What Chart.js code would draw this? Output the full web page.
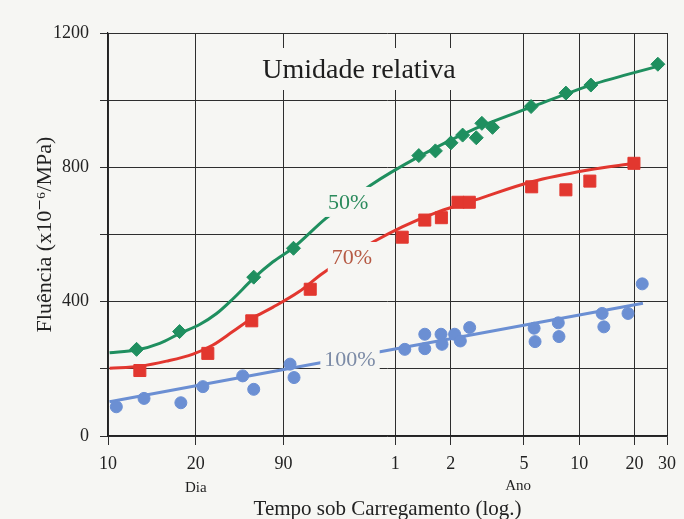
<!DOCTYPE html>
<html>
<head>
<meta charset="utf-8">
<title>Fluência x tempo</title>
<script src="https://cdn.jsdelivr.net/npm/chart.js@4/dist/chart.umd.min.js"></script>
<style>
  html, body { margin: 0; padding: 0; background: #f6f6f3; }
  #wrap { width: 684px; height: 519px; }
</style>
</head>
<body>
<div id="wrap"><canvas id="myChart" width="684" height="519"></canvas></div>
<script>
// x axis: time under load in days (log), labelled in days then years
const tickDays = [10, 30, 90, 365, 730, 1826, 3652, 7305, 10957];
const tickLabels = ['10', '20', '90', '1', '2', '5', '10', '20', '30'];
const yLabelled = [0, 400, 800, 1200];

// 50% relative humidity
const greenDays = [14.3, 24.5, 62, 102, 490, 603, 733, 848, 1006, 1079, 1233, 1998, 3090, 4224, 9772];
const greenVals = [258, 311, 473, 559, 835, 849, 873, 896, 888, 931, 919, 981, 1021, 1045, 1107];
const greenFitDays = [10.2, 14.3, 19.1, 24.5, 31.5, 38.8, 47.7, 62, 78.6, 102, 153, 268, 490, 953, 1998, 4224, 10406];
const greenFit = [248, 256, 276, 305, 332, 364, 408, 470, 518, 561, 648, 747, 832, 911, 979, 1045, 1105];

// 70% relative humidity
const redDays = [14.9, 34.9, 60.5, 125.8, 398, 528, 650, 800, 922, 2013, 3090, 4170, 7244];
const redVals = [195, 246, 343, 437, 592, 643, 650, 696, 696, 742, 733, 759, 812];
const redFitDays = [10.2, 14.9, 20.8, 29, 37.2, 47.7, 60.5, 78.6, 109.6, 146.6, 279.5, 398, 629, 994, 2014, 4083, 7244];
const redFit = [202, 208, 223, 244, 271, 311, 350, 383, 430, 484, 579, 623, 668, 703, 757, 792, 812];

// 100% relative humidity
const blueDays = [11.1, 15.7, 24.9, 32.8, 54, 62, 97.7, 102.7, 411, 528, 528, 647, 655, 767, 824, 926, 2075, 2100, 2809, 2833, 4864, 4969, 6725, 8035];
const blueVals = [87, 112, 99, 147, 179, 139, 214, 174, 258, 303, 260, 303, 273, 303, 283, 323, 321, 281, 337, 296, 365, 325, 365, 453];
const blueFitDays = [10.2, 8110];
const blueFit = [102, 395];

// curve labels (position in data units)
const curveLabels = ['50%', '70%', '100%'];
const curveLabelDays = [202, 212, 207];
const curveLabelVals = [697, 533, 229];

const PAPER = '#f6f6f3';
const SERIF = "'Liberation Serif', 'DejaVu Serif', serif";
const GREEN = '#1f8f5f', RED = '#e2372f', BLUE = '#6b8fd3';
const labelColors = ['#2b8a5c', '#b65a44', '#7c8ba6'];

function pts(xs, ys) {
  return xs.map((d, i) => ({ x: d, y: ys[i] }));
}

function fitLine(data, color) {
  return {
    data: data, showLine: true, borderColor: color, borderWidth: 3,
    pointRadius: 0, cubicInterpolationMode: 'monotone', order: 2
  };
}

function marks(data, color, style, r) {
  return {
    data: data, showLine: false, pointStyle: style, pointRadius: r,
    backgroundColor: color, borderColor: color, borderWidth: 1, order: 1
  };
}

const extras = {
  id: 'extras',
  afterDatasetsDraw(chart) {
    const ctx = chart.ctx, xs = chart.scales.x, ys = chart.scales.y;
    ctx.save();
    ctx.textAlign = 'center';
    ctx.textBaseline = 'middle';

    // percentage labels sit on the curves with a paper box behind them
    ctx.font = '22px ' + SERIF;
    curveLabels.forEach((t, i) => {
      const px = xs.getPixelForValue(curveLabelDays[i]);
      const py = ys.getPixelForValue(curveLabelVals[i]);
      const w = ctx.measureText(t).width + 8;
      ctx.fillStyle = PAPER;
      ctx.fillRect(px - w / 2, py - 15, w, 30);
      ctx.fillStyle = labelColors[i];
      ctx.fillText(t, px, py + 1);
    });

    // heading box
    ctx.fillStyle = PAPER;
    ctx.fillRect(250, 48, 220, 42);
    ctx.fillStyle = '#1e1e1e';
    ctx.font = '28px ' + SERIF;
    ctx.textBaseline = 'alphabetic';
    ctx.fillText('Umidade relativa', 359, 78);

    // unit captions under the time ticks
    ctx.font = '15px ' + SERIF;
    ctx.fillText('Dia', xs.getPixelForValue(30), 492);
    ctx.fillText('Ano', xs.getPixelForValue(1700), 490);
    ctx.restore();
  }
};

const ctx = document.getElementById('myChart').getContext('2d');
const chart = new Chart(ctx, {
  type: 'scatter',
  data: {
    datasets: [
      fitLine(pts(greenFitDays, greenFit), GREEN),
      fitLine(pts(redFitDays, redFit), RED),
      fitLine(pts(blueFitDays, blueFit), BLUE),
      marks(pts(greenDays, greenVals), GREEN, 'rectRot', 7),
      marks(pts(redDays, redVals), RED, 'rect', 8.5),
      marks(pts(blueDays, blueVals), BLUE, 'circle', 6)
    ]
  },
  options: {
    responsive: false,
    devicePixelRatio: 1,
    animation: false,
    layout: { padding: { top: 33, right: 13, left: 0, bottom: 0 } },
    plugins: { legend: { display: false }, tooltip: { enabled: false } },
    scales: {
      x: {
        type: 'logarithmic',
        min: 10,
        max: 10957,
        afterBuildTicks: (scale) => {
          scale.ticks = tickDays.map(v => ({ value: v }));
        },
        afterFit: (scale) => { scale.height = 83; },
        grid: { color: '#2e2e2e', lineWidth: 1, tickLength: 9 },
        border: { color: '#222', width: 1.2 },
        ticks: {
          autoSkip: false, maxRotation: 0, padding: 8,
          color: '#222', font: { family: SERIF, size: 18 },
          callback: (v, i) => tickLabels[i]
        },
        title: {
          display: true, text: 'Tempo sob Carregamento (log.)',
          color: '#222', font: { family: SERIF, size: 21 },
          padding: { top: 0, bottom: -3 }
        }
      },
      y: {
        min: 0,
        max: 1200,
        afterFit: (scale) => { scale.width = 108; },
        grid: { color: '#2e2e2e', lineWidth: 1, tickLength: 8 },
        border: { color: '#222', width: 1.2 },
        ticks: {
          stepSize: 200, padding: 11,
          color: '#222', font: { family: SERIF, size: 18 },
          callback: (v) => yLabelled.includes(v) ? String(v) : ''
        },
        title: {
          display: true, text: 'Fluência (x10⁻⁶/MPa)',
          color: '#222', font: { family: SERIF, size: 22 },
          padding: { top: 32, bottom: 0 }
        }
      }
    }
  },
  plugins: [extras]
});
</script>
</body>
</html>
